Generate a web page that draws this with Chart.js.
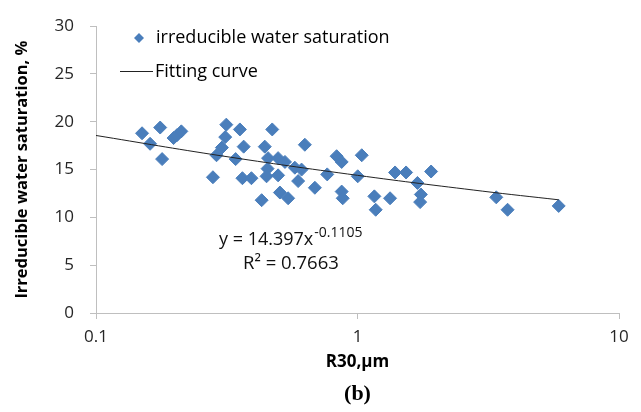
<!DOCTYPE html>
<html><head><meta charset="utf-8">
<script src="https://cdn.jsdelivr.net/npm/chart.js@4.4.0/dist/chart.umd.min.js"></script>
<style>html,body{margin:0;padding:0;background:#fff;}#wrap{width:641px;height:412px;}</style>
</head><body><div id="wrap"><canvas id="c" width="641" height="412"></canvas></div>
<script>
// R30 (µm) values of the samples
const r30Values = [0.150,0.176,0.161,0.179,0.198,0.204,0.212,0.315,0.355,0.312,0.303,0.367,0.289,0.342,0.280,0.363,0.393,0.472,0.442,0.455,0.497,0.528,0.453,0.449,0.497,0.505,0.543,0.430,0.576,0.593,0.629,0.611,0.687,0.832,0.870,1.038,0.766,1.002,0.870,0.878,1.160,1.332,1.174,1.392,1.534,1.695,1.912,1.747,1.736,3.394,3.749,5.880];
// irreducible water saturation (%) of the samples
const swiValues = [18.8,19.4,17.7,16.1,18.3,18.6,19.0,19.7,19.2,18.4,17.3,17.4,16.5,16.1,14.2,14.1,14.1,19.2,17.4,16.2,16.2,15.8,15.1,14.3,14.4,12.6,12.0,11.8,15.2,13.8,17.6,15.0,13.1,16.4,15.8,16.5,14.5,14.3,12.7,12.0,12.2,12.0,10.8,14.7,14.7,13.6,14.8,12.4,11.6,12.1,10.8,11.2];
// fitting curve points
const fitX = [0.1, 0.3, 1, 3, 5.88];
const fitY = [18.57, 16.45, 14.40, 12.75, 11.84];
const xTickValues = [0.1, 1, 10];
const yTickValues = [0, 5, 10, 15, 20, 25, 30];
const seriesLabels = ['irreducible water saturation', 'Fitting curve'];
const equationMain = 'y = 14.397x';
const equationExp = '-0.1105';
const r2Text = 'R\u00B2 = 0.7663';
const xTitle = 'R30,\u03BCm';
const yTitle = 'Irreducible water saturation, %';
const panelLabel = '(b)';

const FONT = '"Open Sans", Lato, sans-serif';
const BLUE = '#4a7ebb';
const AXIS = '#bfbfbf';
const TXT = '#262626';

const scatterPts = r30Values.map((x, i) => ({x: x, y: swiValues[i]}));
const fitPts = fitX.map((x, i) => ({x: x, y: fitY[i]}));

const overlay = {
  id: 'overlay',
  afterDraw(chart) {
    const ctx = chart.ctx;
    const a = chart.chartArea;
    ctx.save();
    // legend
    const L = a.left;
    ctx.fillStyle = BLUE;
    ctx.beginPath();
    const dx = L + 43, dy = 38, r = 5;
    ctx.moveTo(dx - r, dy); ctx.lineTo(dx, dy - r); ctx.lineTo(dx + r, dy); ctx.lineTo(dx, dy + r); ctx.closePath();
    ctx.fill();
    ctx.font = '18px ' + FONT;
    ctx.fillStyle = '#000';
    ctx.textBaseline = 'middle';
    ctx.textAlign = 'left';
    ctx.fillText(seriesLabels[0], L + 60, dy);
    ctx.strokeStyle = '#222';
    ctx.lineWidth = 1;
    ctx.beginPath();
    ctx.moveTo(L + 24, 71.5); ctx.lineTo(L + 57, 71.5); ctx.stroke();
    ctx.fillText(seriesLabels[1], L + 59, 71.5);
    // equation
    ctx.fillStyle = '#111';
    ctx.font = '18px ' + FONT;
    ctx.fillText(equationMain, 219, 240);
    const w = ctx.measureText(equationMain).width;
    ctx.font = '14px ' + FONT;
    ctx.fillText(equationExp, 219 + w + 1, 233);
    ctx.font = '18.5px ' + FONT;
    ctx.fillText(r2Text, 243, 264);
    // panel label
    ctx.font = 'bold 22px "Liberation Serif", "DejaVu Serif", serif';
    ctx.textAlign = 'center';
    ctx.fillStyle = '#000';
    ctx.fillText(panelLabel, (a.left + a.right) / 2, 394);
    ctx.restore();
  }
};

new Chart(document.getElementById('c'), {
  type: 'scatter',
  data: {
    datasets: [
      {
        type: 'line', label: seriesLabels[1], data: fitPts,
        borderColor: '#222', borderWidth: 1, pointRadius: 0, fill: false, tension: 0.4
      },
      {
        label: seriesLabels[0], data: scatterPts,
        pointStyle: 'rectRot', pointRadius: 6.5, pointBackgroundColor: BLUE,
        pointBorderColor: BLUE, pointBorderWidth: 1
      }
    ]
  },
  options: {
    responsive: false, animation: false, devicePixelRatio: 1,
    layout: {padding: {left: 0, right: 22, top: 17, bottom: 0}},
    plugins: {legend: {display: false}, tooltip: {enabled: false}},
    scales: {
      x: {
        type: 'logarithmic', position: 'bottom', min: 0.1, max: 10,
        afterBuildTicks: s => { s.ticks = xTickValues.map(v => ({value: v})); },
        afterFit: s => { s.height = 99; },
        ticks: {autoSkip: false, maxRotation: 0, padding: 8, color: TXT,
          font: {family: FONT, size: 17}, callback: v => String(v)},
        grid: {drawOnChartArea: false, drawTicks: true, tickLength: 6, color: AXIS},
        border: {color: AXIS, width: 1},
        title: {display: true, text: xTitle, color: '#000',
          font: {family: FONT, size: 17, weight: 'bold'}, padding: {top: 0, bottom: 40}}
      },
      y: {
        min: 0, max: 30,
        afterBuildTicks: s => { s.ticks = yTickValues.map(v => ({value: v})); },
        afterFit: s => { s.width = 96; },
        ticks: {padding: 16, color: TXT, font: {family: FONT, size: 17}},
        grid: {drawOnChartArea: false, drawTicks: true, tickLength: 6, color: AXIS},
        border: {color: AXIS, width: 1},
        title: {display: true, text: yTitle, color: '#000',
          font: {family: FONT, size: 16.5, weight: 'bold'}, padding: {top: 12, bottom: 0}}
      }
    }
  },
  plugins: [overlay]
});
</script>
</body></html>
